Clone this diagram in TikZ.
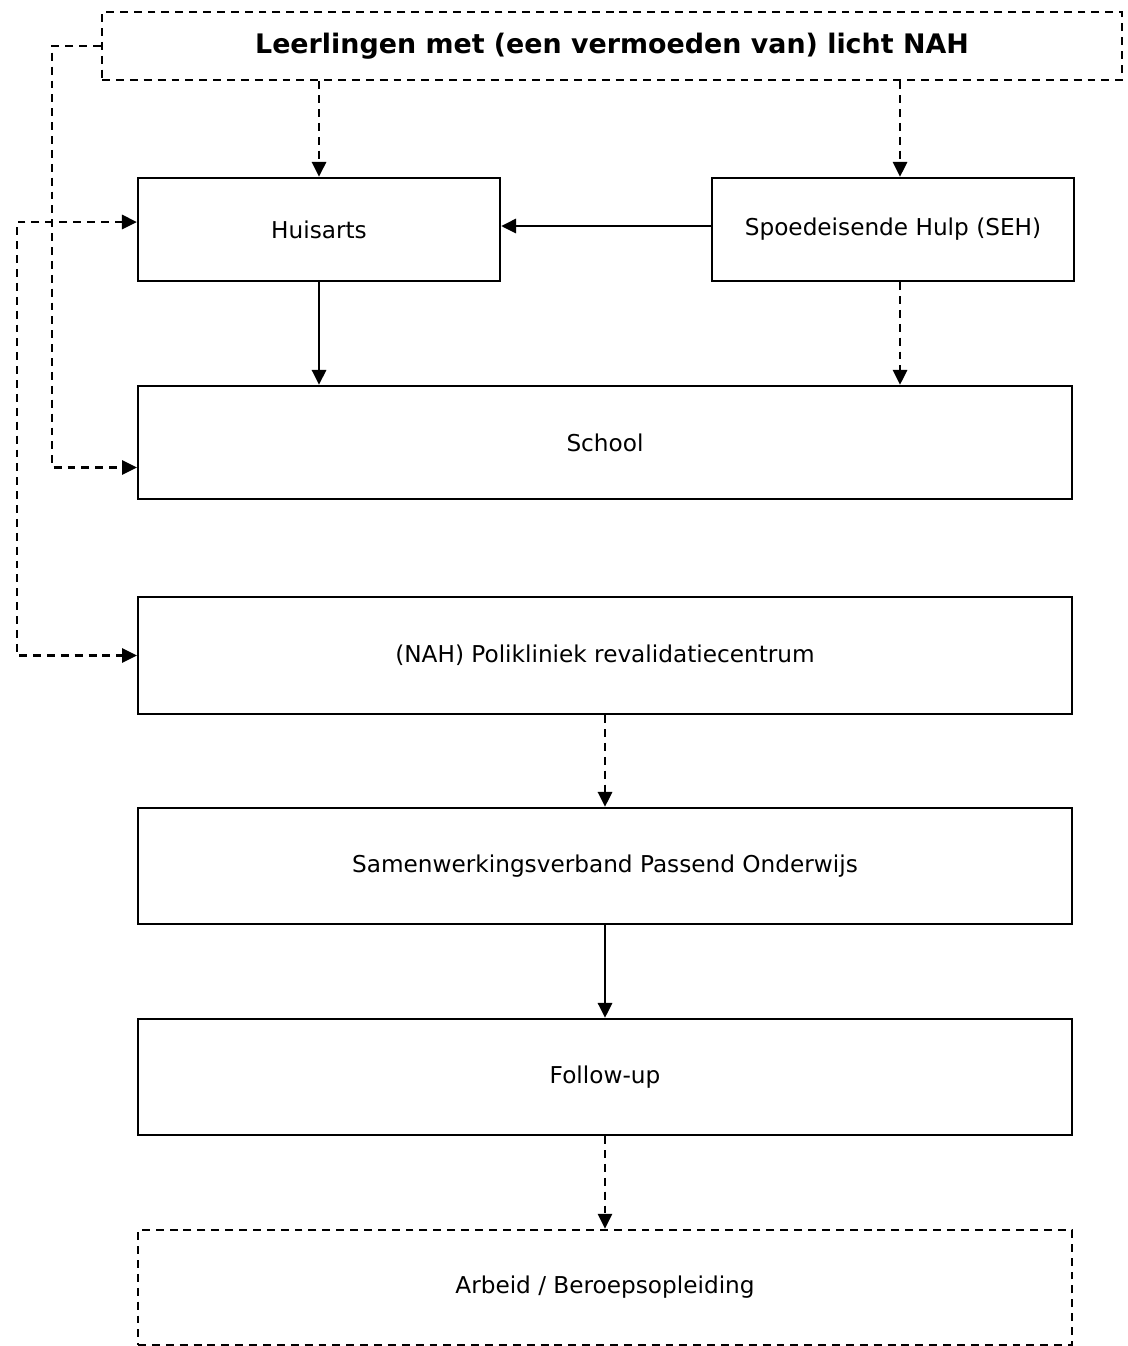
\documentclass[tikz,border=0pt]{standalone}
\usepackage{fontspec}
\setmainfont{DejaVu Sans}
\usetikzlibrary{arrows.meta}

\begin{document}
\begin{tikzpicture}[x=0.02cm,y=-0.02cm,
    box/.style={draw,line width=1.3pt,minimum width=18.68cm,inner sep=0pt,
      font=\fontsize{13.2}{16}\selectfont},
    smallbox/.style={box,minimum width=7.24cm,minimum height=2.06cm},
    dashbox/.style={box,line width=1.5pt,dash pattern=on 4.5pt off 3.4pt},
    tip/.style={-{Triangle[length=8.5pt,width=8pt]}},
    link/.style={line width=1.5pt,tip},
    dashlink/.style={link,dash pattern=on 4.5pt off 3.4pt}]
  \useasboundingbox (0,0) rectangle (1128,1346);
  \node[dashbox,minimum width=20.4cm,minimum height=1.36cm,
    font=\fontsize{15.3}{18}\selectfont\bfseries] (top) at (612,46)
    {Leerlingen met (een vermoeden van) licht NAH};
  \node[smallbox] (hus) at (319,229.5) {Huisarts};
  \node[smallbox] (seh) at (893,229.5) {Spoedeisende Hulp (SEH)};
  \node[box,minimum height=2.26cm] (school) at (605,442.5) {School};
  \node[box,minimum height=2.34cm] (poli) at (605,655.5)
    {(NAH) Polikliniek revalidatiecentrum};
  \node[box,minimum height=2.32cm] (swv) at (605,866)
    {Samenwerkingsverband Passend Onderwijs};
  \node[box,minimum height=2.32cm] (fup) at (605,1077) {Follow-up};
  \node[dashbox,minimum height=2.3cm] (arb) at (605,1287.5)
    {Arbeid / Beroepsopleiding};
  \coordinate (c1) at (52,46);
  \coordinate (c2) at (17,222);
  \coordinate (schoolin) at ([shift={(0,25)}]school.west);
  \coordinate (husin) at ([shift={(0,-7.5)}]hus.west);

  % top row
  \draw [dashlink] (hus.north |- top.south) -- (hus.north);
  \draw [dashlink] ([shift={(7,0)}]seh.north |- top.south)
    -- ([shift={(7,0)}]seh.north);
  \draw [link] ([shift={(0,-3.5)}]seh.west) -- ([shift={(0,-3.5)}]hus.east);
  \draw [link] (hus.south) -- (hus.south |- school.north);
  \draw [dashlink] ([shift={(7,0)}]seh.south)
    -- ([shift={(7,0)}]seh.south |- school.north);

  % side loops
  \draw [dashlink] (top.west) -- (c1) -- (c1 |- schoolin) -- (schoolin);
  \draw [dashlink,{Triangle[length=8.5pt,width=8pt]}-{Triangle[length=8.5pt,width=8pt]}]
    (husin) -- (c2) -- (c2 |- poli.west) -- (poli.west);

  % column
  \draw [dashlink] (poli.south) -- (swv.north);
  \draw [link] (swv.south) -- (fup.north);
  \draw [dashlink] (fup.south) -- (arb.north);
\end{tikzpicture}
\end{document}
